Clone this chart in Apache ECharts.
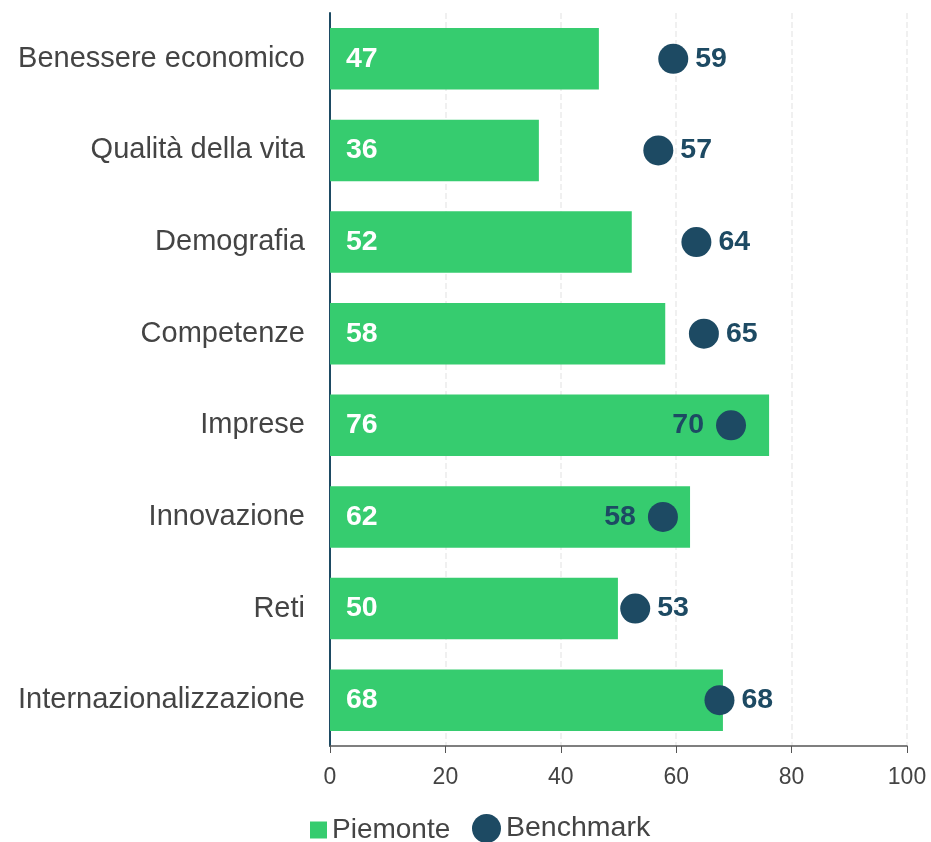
<!DOCTYPE html>
<html>
<head>
<meta charset="utf-8">
<script src="https://cdn.jsdelivr.net/npm/echarts@6/dist/echarts.min.js"></script>
<style>
  html, body { margin: 0; padding: 0; background: #fff; }
  #chart { width: 931px; height: 842px; }
</style>
</head>
<body>
<div id="chart"></div>
<script>
// dati
var categories = [
  'Benessere economico', 'Qualità della vita', 'Demografia', 'Competenze',
  'Imprese', 'Innovazione', 'Reti', 'Internazionalizzazione'
]
var piemonte = [46.6, 36.2, 52.3, 58.1, 76.1, 62.4, 49.9, 68.1]
var benchmark = [59.49, 56.9, 63.5, 64.8, 69.5, 57.7, 52.9, 67.5]
var xTicks = [0, 20, 40, 60, 80, 100]

var green = '#36cc6f'
var navy = '#1d4a63'
var grey = '#444'
var font = 'Liberation Sans, Arial, sans-serif'

var chartDom = document.getElementById('chart')
var myChart = echarts.init(chartDom)

// etichetta a sinistra del punto se la barra lo supera
var scatterData = benchmark.map(function (v, i) {
  var leftSide = Math.round(piemonte[i]) > Math.round(v)
  return {
    value: [v, categories[i]],
    label: { position: leftSide ? 'left' : 'right', distance: leftSide ? 12 : 7 }
  }
})

var option = {
  animation: false,
  textStyle: { fontFamily: font },
  grid: { left: 330, right: 24, top: 13, bottom: 96, containLabel: false },
  legend: [
    {
      data: [{ name: 'Piemonte', icon: 'rect' }],
      left: 310, top: 816, padding: 0,
      itemWidth: 17, itemHeight: 17,
      textStyle: { fontSize: 28, color: grey, fontFamily: font }
    },
    {
      data: [{ name: 'Benchmark', icon: 'circle' }],
      left: 472, top: 814, padding: 0,
      itemWidth: 29, itemHeight: 29,
      textStyle: { fontSize: 28.5, color: grey, fontFamily: font }
    }
  ],
  xAxis: {
    type: 'value',
    min: xTicks[0],
    max: xTicks[xTicks.length - 1],
    interval: 20,
    axisLine: { show: true, lineStyle: { color: '#555', width: 1.5 } },
    axisTick: { show: true, length: 7, lineStyle: { color: '#555' } },
    axisLabel: { fontSize: 23, color: grey, margin: 20 },
    splitLine: { show: true, lineStyle: { color: '#ebebeb', type: 'dashed', width: 1.5 } }
  },
  yAxis: {
    type: 'category',
    data: categories,
    inverse: true,
    axisLine: { show: true, lineStyle: { color: navy, width: 2 } },
    axisTick: { show: false },
    axisLabel: { fontSize: 29, color: grey, margin: 25 },
    splitLine: { show: false }
  },
  series: [
    {
      name: 'Piemonte',
      type: 'bar',
      data: piemonte,
      barWidth: '67%',
      itemStyle: { color: green },
      label: {
        show: true,
        position: 'insideLeft',
        distance: 16,
        color: '#fff',
        fontSize: 28.5,
        fontWeight: 'bold',
        formatter: function (p) { return Math.round(p.value) }
      },
      z: 2
    },
    {
      name: 'Benchmark',
      type: 'scatter',
      data: scatterData,
      symbol: 'circle',
      symbolSize: 30,
      itemStyle: { color: navy, opacity: 1 },
      label: {
        show: true,
        color: navy,
        fontSize: 28.5,
        fontWeight: 'bold',
        formatter: function (p) { return Math.round(p.value[0]) }
      },
      z: 3
    }
  ]
}

option && myChart.setOption(option)
</script>
</body>
</html>
